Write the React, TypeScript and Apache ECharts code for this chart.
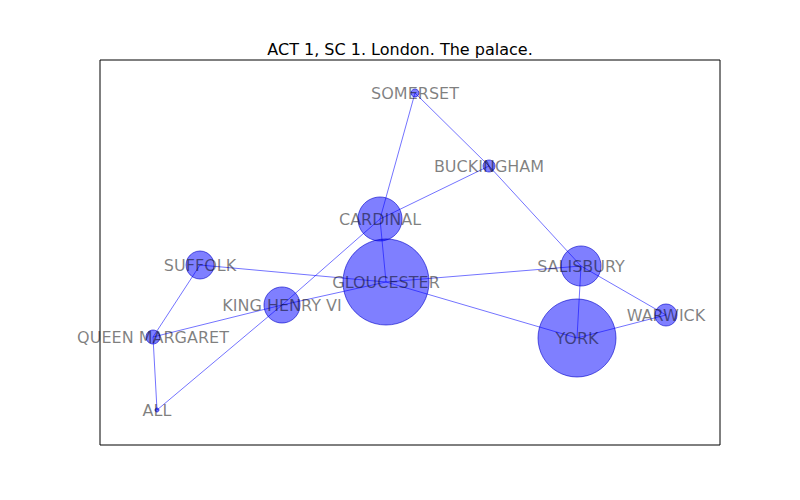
import React, { useRef, useEffect } from "react";
import * as echarts from "echarts";

// node names, positions (data units) and marker diameters
const names = ["SOMERSET", "BUCKINGHAM", "CARDINAL", "SUFFOLK", "GLOUCESTER", "SALISBURY", "KING HENRY VI", "YORK", "WARWICK", "QUEEN MARGARET", "ALL"];
const xs = [315, 389, 280, 100, 286, 481, 182, 477, 566, 53, 57];
const ys = [352, 279, 226, 180, 163, 179, 140, 107, 130, 108, 35];
const sizes = [8, 12, 44, 28, 86, 40, 36, 78, 22, 14, 4];
const edges: [string, string][] = [
  ["SOMERSET", "CARDINAL"],
  ["SOMERSET", "BUCKINGHAM"],
  ["BUCKINGHAM", "CARDINAL"],
  ["BUCKINGHAM", "SALISBURY"],
  ["CARDINAL", "GLOUCESTER"],
  ["CARDINAL", "KING HENRY VI"],
  ["SUFFOLK", "GLOUCESTER"],
  ["SUFFOLK", "QUEEN MARGARET"],
  ["GLOUCESTER", "SALISBURY"],
  ["GLOUCESTER", "YORK"],
  ["GLOUCESTER", "KING HENRY VI"],
  ["KING HENRY VI", "QUEEN MARGARET"],
  ["KING HENRY VI", "ALL"],
  ["QUEEN MARGARET", "ALL"],
  ["SALISBURY", "YORK"],
  ["SALISBURY", "WARWICK"],
  ["YORK", "WARWICK"],
];

const App = () => {
  const chartRef = useRef<HTMLDivElement>(null);

  useEffect(() => {
    document.body.style.margin = "0";
    const chart = echarts.init(chartRef.current, null, { renderer: "svg" });
    chart.setOption({
      animation: false,
      textStyle: { fontFamily: "DejaVu Sans" },
      title: {
        text: "ACT 1, SC 1. London. The palace.",
        left: "center",
        top: 36,
        textStyle: { fontSize: 16, fontWeight: "normal", color: "#000" },
      },
      grid: { left: 100, right: 80, top: 60, bottom: 55, show: true, borderColor: "#000", borderWidth: 1 },
      xAxis: { type: "value", min: 0, max: 620, show: false },
      yAxis: { type: "value", min: 0, max: 385, show: false },
      series: [
        {
          type: "graph",
          coordinateSystem: "cartesian2d",
          layout: "none",
          data: names.map((n, i) => ({
            name: n,
            value: [xs[i], ys[i]],
            symbolSize: sizes[i],
          })),
          links: edges.map(([s, t]) => ({ source: s, target: t })),
          itemStyle: { color: "rgba(0,0,255,0.5)", borderColor: "rgba(0,0,200,0.6)", borderWidth: 1 },
          lineStyle: { color: "rgba(0,0,255,0.55)", width: 1, opacity: 1 },
          label: {
            show: true,
            position: "inside",
            color: "rgba(0,0,0,0.5)",
            fontSize: 16,
            formatter: "{b}",
          },
        },
      ],
    });
    return () => chart.dispose();
  }, []);

  return <div ref={chartRef} style={{ width: 800, height: 500 }} />;
};

export default App;
